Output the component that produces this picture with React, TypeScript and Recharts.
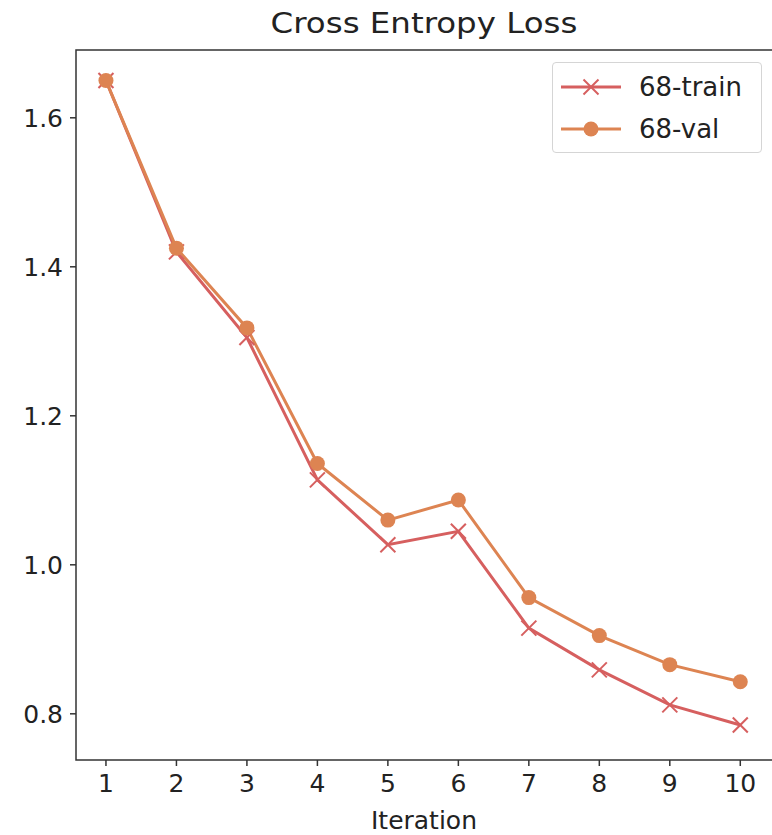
import { Legend, Line, LineChart, ReferenceArea, XAxis, YAxis } from "recharts";

const iterations = [1, 2, 3, 4, 5, 6, 7, 8, 9, 10];
const trainLoss = [1.65, 1.42, 1.305, 1.114, 1.027, 1.045, 0.915, 0.859, 0.812, 0.785];
const valLoss = [1.65, 1.425, 1.318, 1.136, 1.06, 1.087, 0.956, 0.905, 0.866, 0.843];
const xTicks = [1, 2, 3, 4, 5, 6, 7, 8, 9, 10];
const yTicks = [0.8, 1.0, 1.2, 1.4, 1.6];

const X_DOMAIN: [number, number] = [0.575, 10.45];
const Y_DOMAIN: [number, number] = [0.738, 1.691];

const TRAIN_COLOR = "#d65f5f";
const VAL_COLOR = "#dd8452";
const FONT = "'DejaVu Sans', sans-serif";
const TEXT = "#222";

const data = iterations.map((it, i) => ({
  iteration: it,
  train: trainLoss[i],
  val: valLoss[i],
}));

function CrossDot(props: any) {
  const { cx, cy } = props;
  if (cx == null || cy == null) return null;
  const s = 7.5;
  return (
    <g stroke={TRAIN_COLOR} strokeWidth={2}>
      <line x1={cx - s} y1={cy - s} x2={cx + s} y2={cy + s} />
      <line x1={cx - s} y1={cy + s} x2={cx + s} y2={cy - s} />
    </g>
  );
}

function CircleDot(props: any) {
  const { cx, cy } = props;
  if (cx == null || cy == null) return null;
  return <circle cx={cx} cy={cy} r={7.5} fill={VAL_COLOR} />;
}

function LegendBox() {
  const rows = [
    { name: "68-train", color: TRAIN_COLOR, marker: "x" },
    { name: "68-val", color: VAL_COLOR, marker: "o" },
  ];
  return (
    <div
      style={{
        width: 210,
        height: 91,
        border: "1px solid #d5d5d5",
        borderRadius: 4,
        background: "rgba(255,255,255,0.8)",
        boxSizing: "border-box",
        paddingTop: 3,
      }}
    >
      {rows.map((r) => (
        <div
          key={r.name}
          style={{ display: "flex", alignItems: "center", height: 42 }}
        >
          <svg width={80} height={20} style={{ marginLeft: 6 }}>
            <line x1={2} y1={10} x2={62} y2={10} stroke={r.color} strokeWidth={3} />
            {r.marker === "x" ? (
              <g stroke={r.color} strokeWidth={2}>
                <line x1={24.5} y1={2.5} x2={39.5} y2={17.5} />
                <line x1={24.5} y1={17.5} x2={39.5} y2={2.5} />
              </g>
            ) : (
              <circle cx={32} cy={10} r={7.5} fill={r.color} />
            )}
          </svg>
          <span style={{ fontFamily: FONT, fontSize: 26, color: TEXT, lineHeight: "30px" }}>{r.name}</span>
        </div>
      ))}
    </div>
  );
}

export default function App() {
  return (
    <div style={{ position: "absolute", left: 0, top: 0, width: 772, height: 835, background: "#fff", overflow: "hidden" }}>
      <div
        style={{
          position: "absolute",
          left: 76,
          width: 696,
          top: 7,
          textAlign: "center",
          fontFamily: FONT,
          fontSize: 27.5,
          lineHeight: "32px",
          color: TEXT,
          transform: "scaleX(1.18)",
        }}
      >
        Cross Entropy Loss
      </div>
      <LineChart
        width={772}
        height={835}
        data={data}
        margin={{ top: 50, right: 0, left: 0, bottom: 0 }}
      >
        <XAxis
          dataKey="iteration"
          type="number"
          domain={X_DOMAIN}
          ticks={xTicks}
          allowDataOverflow
          height={75}
          axisLine={false}
          tickLine={{ stroke: "#333", strokeWidth: 1.5 }}
          tickSize={6}
          tickMargin={8}
          tick={{ fontFamily: FONT, fontSize: 25, fill: TEXT }}
          label={{
            value: "Iteration",
            position: "insideBottom",
            offset: 6,
            style: { fontFamily: FONT, fontSize: 25, fill: TEXT },
          }}
        />
        <YAxis
          type="number"
          domain={Y_DOMAIN}
          ticks={yTicks}
          allowDataOverflow
          width={76}
          axisLine={false}
          tickLine={{ stroke: "#333", strokeWidth: 1.5 }}
          tickSize={6}
          tickMargin={7}
          tickFormatter={(v: number) => v.toFixed(1)}
          tick={{ fontFamily: FONT, fontSize: 25, fill: TEXT }}
        />
        <ReferenceArea
          x1={X_DOMAIN[0]}
          x2={10.48}
          y1={Y_DOMAIN[0]}
          y2={Y_DOMAIN[1]}
          fill="none"
          stroke="#333"
          strokeWidth={1.5}
          ifOverflow="visible"
        />
        <Legend
          layout="vertical"
          align="center"
          verticalAlign="middle"
          wrapperStyle={{ position: "absolute", top: 62, left: 552, right: "auto", bottom: "auto", width: "auto" }}
          content={() => <LegendBox />}
        />
        <Line
          dataKey="train"
          name="68-train"
          stroke={TRAIN_COLOR}
          strokeWidth={3}
          dot={<CrossDot />}
          activeDot={false}
          isAnimationActive={false}
        />
        <Line
          dataKey="val"
          name="68-val"
          stroke={VAL_COLOR}
          strokeWidth={3}
          dot={<CircleDot />}
          activeDot={false}
          isAnimationActive={false}
        />
      </LineChart>
    </div>
  );
}
